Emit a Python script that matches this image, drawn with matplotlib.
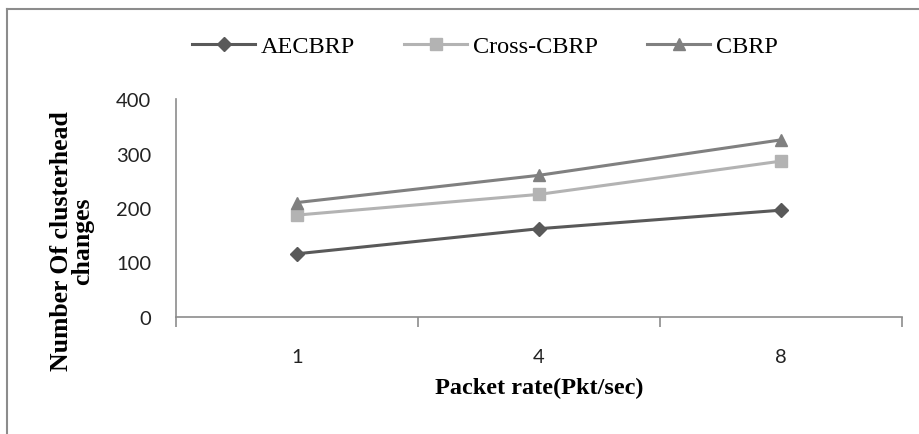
import matplotlib.pyplot as plt
from matplotlib.lines import Line2D

# Datos
categorias = ['1', '4', '8']
aecbrp = [116, 162, 196]
cross_cbrp = [187, 225, 286]
cbrp = [210, 260, 325]
ticks_y = [0, 100, 200, 300, 400]

W, H = 920, 435
fig = plt.figure(figsize=(W / 100, H / 100), dpi=100)
ax = fig.add_axes([176 / W, 1 - 318 / H, (902 - 176) / W, (318 - 100) / H])

x = range(len(categorias))
ax.plot(x, aecbrp, color='#595959', lw=2.2, marker='D', ms=7, label='AECBRP')
ax.plot(x, cross_cbrp, color='#b3b3b3', lw=2.2, marker='s', ms=8, label='Cross-CBRP')
ax.plot(x, cbrp, color='#808080', lw=2.2, marker='^', ms=9, label='CBRP')

ax.set_xlim(-0.5, len(categorias) - 0.5)
ax.set_ylim(0, 400)
ax.set_yticks(ticks_y)
ax.set_xticks(x)
ax.set_xticklabels(categorias)
ax.set_xticks([i - 0.5 for i in range(len(categorias) + 1)], minor=True)
ax.tick_params(axis='x', which='major', length=0, pad=22)
ax.tick_params(axis='x', which='minor', length=7, color='#8c8c8c', width=1.2)
ax.tick_params(axis='y', length=0, pad=18)
for lab in ax.get_xticklabels() + ax.get_yticklabels():
    lab.set_fontfamily('Lato')
    lab.set_fontsize(14.5)
    lab.set_color('#222222')

for s in ['top', 'right']:
    ax.spines[s].set_visible(False)
for s in ['left', 'bottom']:
    ax.spines[s].set_color('#8c8c8c')
    ax.spines[s].set_linewidth(1.2)
ax.spines['left'].set_bounds(0, 400)

# Etiquetas de los ejes
fig.text(539 / W, 1 - 388 / H, 'Packet rate(Pkt/sec)', ha='center', va='center',
         family='Liberation Serif', weight='bold', fontsize=17.5)
fig.text(72 / W, 1 - 241 / H, 'Number Of clusterhead\nchanges', ha='center', va='center',
         rotation=90, family='Liberation Serif', weight='bold', fontsize=18.5,
         linespacing=0.9)

# Leyenda
fig.legend(loc='center', bbox_to_anchor=(485 / W, 1 - 47 / H), ncol=3, frameon=False,
           prop={'family': 'Liberation Serif', 'size': 17.5}, handlelength=2.6,
           handletextpad=0.25, columnspacing=2.0)

# Marco exterior (solo se ven los lados izquierdo y superior)
fig.add_artist(Line2D([7 / W, 7 / W], [0, 1 - 10 / H], transform=fig.transFigure,
                      color='#8c8c8c', lw=1.5))
fig.add_artist(Line2D([7 / W, 1], [1 - 10 / H, 1 - 10 / H], transform=fig.transFigure,
                      color='#8c8c8c', lw=1.5))

fig.savefig('out.png', dpi=100)
